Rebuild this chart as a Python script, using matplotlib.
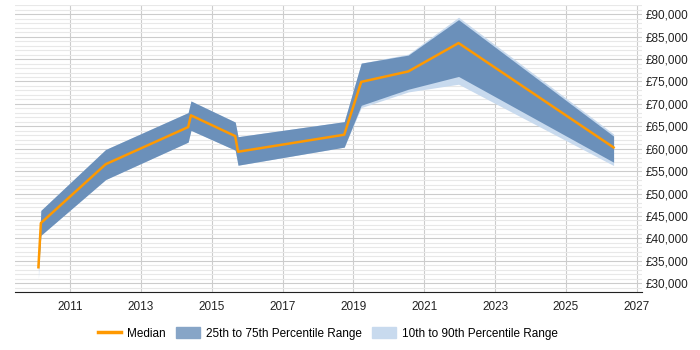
import numpy as np
import matplotlib
matplotlib.use('Agg')
import matplotlib.pyplot as plt
from matplotlib.ticker import FuncFormatter, MultipleLocator
from matplotlib.lines import Line2D
from matplotlib.patches import Patch

plt.rcParams['font.family'] = ['Liberation Sans', 'DejaVu Sans']

# dates as decimal years
years = [2010.10, 2010.17, 2012.00, 2014.33, 2014.41, 2015.66, 2015.74,
         2018.74, 2019.22, 2020.55, 2021.97, 2026.35]
median = [33580, 43430, 56550, 64830, 67450, 62820, 59330, 63130, 74910, 77240, 83570, 60290]
p25 = [33000, 40700, 53130, 61480, 64100, 59690, 56330, 60360, 69690, 73270, 76120, 57000]
p75 = [34000, 46250, 59840, 68060, 70650, 65950, 62690, 66040, 79090, 80880, 88790, 62820]
p10 = [31000, 40700, 53130, 61480, 64100, 59690, 56330, 60360, 69180, 72670, 74390, 56260]
p90 = [34500, 46250, 59840, 68060, 70650, 65950, 62690, 66040, 79090, 81100, 89330, 63300]

dark = '#6b90ba'
light = '#c8daee'
orange = '#ff9900'

fig = plt.figure(figsize=(7, 3.5), dpi=100)
ax = fig.add_axes([0.022, 0.165, 0.895, 0.82])

ax.fill_between(years, p10, p90, color=light, lw=0, zorder=2)
ax.fill_between(years, p25, p75, color=dark, lw=0, zorder=3)
ax.plot(years, median, color=orange, lw=1.8, zorder=4)

ax.set_xlim(2009.45, 2027.15)
ax.set_ylim(28000, 92000)
ax.set_xticks(range(2011, 2028, 2))
ax.yaxis.set_major_locator(MultipleLocator(5000))
ax.yaxis.set_minor_locator(MultipleLocator(1000))
ax.yaxis.set_major_formatter(FuncFormatter(lambda v, p: f'£{int(v):,}'))
ax.yaxis.tick_right()

ax.grid(axis='x', color='#cccccc', lw=0.8, zorder=0)
ax.grid(axis='y', which='major', color='#cccccc', lw=0.8, zorder=0)
ax.grid(axis='y', which='minor', color='#e8e8e8', lw=0.8, zorder=0)

for s in ['top', 'right', 'left']:
    ax.spines[s].set_visible(False)
ax.spines['bottom'].set_color('#222222')
ax.tick_params(axis='y', which='both', length=0, labelsize=8.5, pad=3, colors='#222222')
ax.tick_params(axis='x', length=0, labelsize=8.5, pad=6, colors='#222222')

handles = [Line2D([0], [0], color=orange, lw=2.5),
           Patch(color='#87a5c7'),
           Patch(color=light)]
labels = ['Median', '25th to 75th Percentile Range', '10th to 90th Percentile Range']
fig.legend(handles, labels, loc='center', bbox_to_anchor=(0.468, 0.048), ncol=3,
           frameon=False, fontsize=8.5, handlelength=2, handleheight=1.1,
           columnspacing=0.9, handletextpad=0.5)

fig.savefig('out.png')
